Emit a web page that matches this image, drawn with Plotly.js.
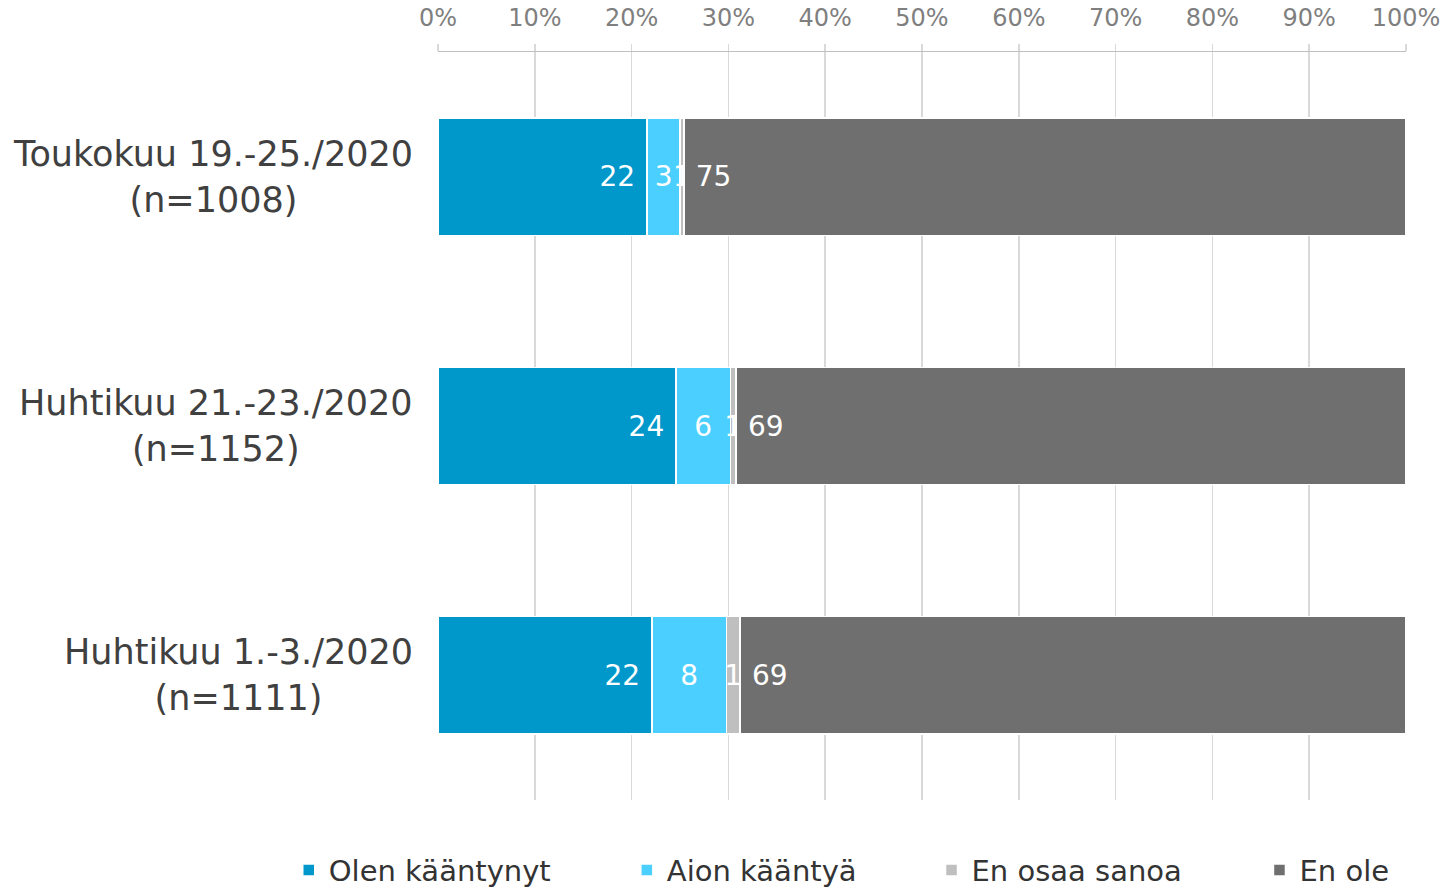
<!DOCTYPE html>
<html>
<head>
<meta charset="utf-8">
<script src="https://cdn.plot.ly/plotly-3.0.1.min.js"></script>
<style>html,body{margin:0;padding:0;background:#fff;}#chart{width:1451px;height:888px;}</style>
</head>
<body>
<div id="chart"></div>
<script>
// Categories (top to bottom)
const categories = ["Toukokuu 19.-25./2020<br>(n=1008)", "Huhtikuu 21.-23./2020<br>(n=1152)", "Huhtikuu 1.-3./2020<br>(n=1111)"];
const seriesNames = ["Olen kääntynyt", "Aion kääntyä", "En osaa sanoa", "En ole"];
// Bar lengths (percent)
const olenKaantynyt = [21.6, 24.6, 22.1];
const aionKaantya = [3.4, 5.6, 7.7];
const enOsaaSanoa = [0.4, 0.6, 1.4];
const enOle = [74.6, 69.2, 68.8];
// Data labels as shown
const labelsOlen = ["22", "24", "22"];
const labelsAion = ["3", "6", "8"];
const labelsEos = ["1", "1", "1"];
const labelsEnOle = ["75", "69", "69"];
const tickVals = [0, 10, 20, 30, 40, 50, 60, 70, 80, 90, 100];
const tickText = ["0%", "10%", "20%", "30%", "40%", "50%", "60%", "70%", "80%", "90%", "100%"];

const colors = ["#0098CB", "#4BCFFF", "#BFBFBF", "#6F6F6F"];
const values = [olenKaantynyt, aionKaantya, enOsaaSanoa, enOle];
const labels = [labelsOlen, labelsAion, labelsEos, labelsEnOle];
const anchors = ["end", "middle", "middle", "start"];
const templates = ["%{text}\u00a0", "%{text}", "%{text}", "\u00a0%{text}"];
const legendIds = ["legend", "legend2", "legend3", "legend4"];
const legendX = [0.199, 0.432, 0.642, 0.868];

const traces = seriesNames.map((name, i) => ({
  type: "bar",
  orientation: "h",
  name: name,
  legend: legendIds[i],
  y: categories,
  x: values[i],
  text: labels[i],
  texttemplate: templates[i],
  textposition: "inside",
  insidetextanchor: anchors[i],
  constraintext: "none",
  textfont: {family: "DejaVu Sans", size: 28, color: "#ffffff"},
  marker: {color: colors[i], line: {color: "#ffffff", width: 1.5}},
  hoverinfo: "skip"
}));

const annotations = categories.map(c => ({
  xref: "paper", yref: "y", x: 0, y: c, xshift: -23,
  xanchor: "right", yanchor: "middle", align: "center",
  text: c, showarrow: false,
  font: {family: "DejaVu Sans", size: 35, color: "#404040"}
}));

const layout = {
  width: 1451, height: 888,
  margin: {l: 438, r: 45, t: 52, b: 88},
  paper_bgcolor: "#ffffff", plot_bgcolor: "#ffffff",
  barmode: "stack",
  bargap: 0.53,
  font: {family: "DejaVu Sans", color: "#404040"},
  showlegend: true,
  xaxis: {
    side: "top", range: [0, 100], tickvals: tickVals, ticktext: tickText,
    showgrid: true, gridcolor: "#D9D9D9", gridwidth: 1.5,
    showline: true, linecolor: "#BFBFBF", linewidth: 1.5,
    ticks: "outside", ticklen: 7, tickcolor: "#D9D9D9", tickwidth: 1.5,
    ticklabelstandoff: 8,
    tickfont: {family: "DejaVu Sans", size: 24, color: "#7F7F7F"},
    zeroline: false, fixedrange: true
  },
  yaxis: {
    autorange: "reversed", showticklabels: false, showgrid: false,
    showline: false, zeroline: false, ticks: "", fixedrange: true
  },
  annotations: annotations
};
legendIds.forEach((id, i) => {
  layout[id] = {
    orientation: "h", xref: "container", yref: "container",
    x: legendX[i], xanchor: "left", y: 0.02, yanchor: "middle",
    font: {family: "DejaVu Sans", size: 29, color: "#333333"},
    bgcolor: "rgba(0,0,0,0)"
  };
});

Plotly.newPlot("chart", traces, layout, {displayModeBar: false, staticPlot: true});
</script>
</body>
</html>
